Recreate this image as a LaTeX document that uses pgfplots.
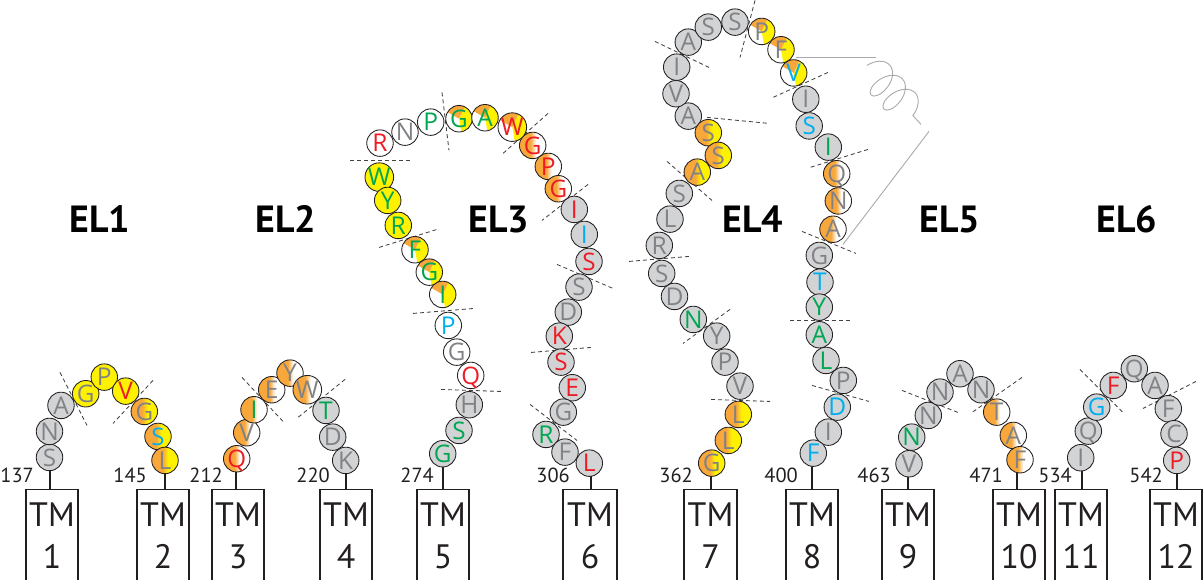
\documentclass[border=0pt]{standalone}
\usepackage{fontspec}
\setmainfont{PT Sans}
\newfontfamily\resfont{Open Sans}
\usepackage{graphicx}
\usepackage{pgfplots}
\pgfplotsset{compat=1.18}
\usepackage{pgfplotstable}
\usetikzlibrary{decorations.pathmorphing}

\definecolor{cgf}{HTML}{D1D3D4}
\definecolor{cyl}{HTML}{FFF200}
\definecolor{cor}{HTML}{F8A73A}
\definecolor{gy}{HTML}{808285}
\definecolor{rd}{HTML}{ED1C24}
\definecolor{gn}{HTML}{00A651}
\definecolor{bl}{HTML}{00AEEF}
\definecolor{ink}{HTML}{231F20}
\definecolor{hel}{HTML}{A7A9AC}

\pgfdeclarehorizontalshading{oy}{100bp}{color(0bp)=(cor); color(25bp)=(cor); color(46bp)=(cor); color(56bp)=(cyl); color(75bp)=(cyl); color(100bp)=(cyl)}
\pgfdeclarehorizontalshading{ow}{100bp}{color(0bp)=(cor); color(25bp)=(cor); color(46bp)=(cor); color(56bp)=(white); color(75bp)=(white); color(100bp)=(white)}

% residue label = letter followed by letter colour
\def\resfmt#1{\expandafter\resfmtB#1\relax}
\def\resfmtB#1#2\relax{\resizebox{!}{17.5bp}{\raisebox{0pt}[\height][0pt]{\resfont\fontsize{20}{20}\selectfont\textcolor{#2}{#1}}}}

\pgfplotstableread{
x y r
49.5 457 Sgy
49.5 431 Ngy
61 405 Agy
326 410 Tgn
332.7 436.7 Dgy
345.7 460 Kgy
442.7 453.3 Ggn
459 430 Sgn
469.3 404.3 Hgy
574.3 209 Ird
584.3 234 Ibl
589 261 Srd
579 286.7 Sgy
568.3 311.7 Dgy
559.3 335.7 Krd
561 361.7 Srd
572.3 387.3 Erd
563.3 411.7 Ggy
546 434 Rgn
565 451.7 Fgy
589.3 462.7 Lrd
740 385.7 Vgy
725 361.7 Pgy
716.7 335.7 Ygy
693.3 319 Ngn
674.5 296 Dgy
661.7 273 Sgy
659.3 245 Rgy
670 218.7 Lgy
679.3 193 Sgy
688.3 115.7 Agy
676 93.3 Vgy
676.7 66.7 Igy
688.3 41.7 Agy
708.3 26.7 Sgy
735 21.7 Sgy
805.8 98.8 Igy
809.2 125.5 Sbl
828.3 146.7 Ign
819.3 255 Ggy
820 281.7 Tbl
819.3 306.7 Ygn
819.3 334.3 Agn
826 360 Lgn
843.3 380 Pgy
837.3 406.7 Dbl
828.3 431.7 Igy
813.3 452.7 Fbl
909 463.3 Vgy
911.7 436.7 Ngn
928.3 415 Ngy
940 391.7 Ngy
960 373.3 Agy
981 389.3 Ngy
1080.7 457.3 Igy
1088.3 430.7 Qgy
1096.7 406.7 Gbl
1113.3 385 Frd
1134.3 368.3 Qgy
1155 385 Agy
1168.3 408.3 Fgy
1174 433.3 Cgy
1176.7 460 Prd
}\tgrey

\pgfplotstableread{
x y r
85.7 393.3 Ggy
104.3 376.7 Pgy
125.7 390.7 Vrd
379.3 176.7 Wgn
387.7 200 Ygn
398.3 225 Rgn
}\tyellow

\pgfplotstableread{
x y r
144.3 411 Ggy
158 436 Sbl
165 460 Lgy
708.3 132.3 Sgy
718.3 155 Sgy
697.3 171.7 Agy
738.3 414 Lgy
728.3 440 Lgy
711.7 462.7 Ggy
}\toy

\pgfplotstableread{
x y r
236.7 458.3 Qrd
246.7 432.3 Vgy
254 409.3 Ign
271.7 389.3 Egy
290 372.7 Ygy
307.3 389.3 Wgy
532.7 145 Grd
548.3 166 Prd
558.3 188.3 Grd
836.7 173.3 Qgy
838.3 200.5 Ngy
833 228.8 Agy
996.7 411.7 Tgy
1013.3 435 Agy
1020 459.3 Fgy
}\tow

\pgfplotstableread{
x y r
380 142.7 Rrd
405 131.7 Ngy
430.7 121.7 Pgn
448.3 325 Pbl
456.7 351.7 Ggy
470.7 375 Qrd
}\twhite

\pgfplotstableread{
x y r
459 118.3 Ggn
485 117.3 Agn
512.3 126.7 Wrd
415 249.3 Fgn
429.3 271.7 Ggn
442.7 294 Ign
761.7 31 Pgy
781 49.3 Fgy
793.7 72.5 Vbl
}\tpie

\pgfplotsset{
  res/.style={draw=none, mark=none, point meta=explicit symbolic,
    nodes near coords={\resfmt{\pgfplotspointmeta}},
    every node near coord/.append style={circle, draw=ink, line width=0.85bp,
      minimum size=26.5bp, inner sep=0pt, anchor=center,
      text height=17.5bp, text depth=0pt}},
  dsh/.style={ink!85, line width=0.85bp, dash pattern=on 4bp off 3bp},
  box/.style={ink, line width=1.1bp},
  stem/.style={ink, line width=1.9bp},
}

\begin{document}
\begin{tikzpicture}
\begin{axis}[scale only axis, width=1203bp, height=579bp,
  xmin=0, xmax=1203, ymin=0, ymax=579, y dir=reverse,
  hide axis, clip=false]
\addplot[draw=none] coordinates {(0,0) (1203,579)};

% dashed separators
\addplot[dsh] coordinates {(60,372) (87,425)};
\addplot[dsh] coordinates {(153,380) (113,423)};
\addplot[dsh] coordinates {(242,377) (283,421)};
\addplot[dsh] coordinates {(345,379) (298,417)};
\addplot[dsh] coordinates {(442,92) (449,150)};
\addplot[dsh] coordinates {(350,160) (410,160)};
\addplot[dsh] coordinates {(548,113) (503,153)};
\addplot[dsh] coordinates {(379,247) (437,229)};
\addplot[dsh] coordinates {(588,184) (542,220)};
\addplot[dsh] coordinates {(557,264) (613,288)};
\addplot[dsh] coordinates {(531,352) (591,347)};
\addplot[dsh] coordinates {(413,313) (474,308)};
\addplot[dsh] coordinates {(441,389) (501,391)};
\addplot[dsh] coordinates {(530,404) (577,440)};
\addplot[dsh] coordinates {(755,0) (740,57)};
\addplot[dsh] coordinates {(655,41) (709,67)};
\addplot[dsh] coordinates {(828,72) (773,97)};
\addplot[dsh] coordinates {(707,117) (769,123)};
\addplot[dsh] coordinates {(667,161) (712,200)};
\addplot[dsh] coordinates {(868,149) (810,167)};
\addplot[dsh] coordinates {(802,231) (856,253)};
\addplot[dsh] coordinates {(629,261) (689,256)};
\addplot[dsh] coordinates {(730,309) (683,343)};
\addplot[dsh] coordinates {(711,399) (770,401)};
\addplot[dsh] coordinates {(790,320) (850,320)};
\addplot[dsh] coordinates {(812,385) (869,401)};
\addplot[dsh] coordinates {(902,390) (958,412)};
\addplot[dsh] coordinates {(1022,377) (972,412)};
\addplot[dsh] coordinates {(1080,369) (1123,412)};
\addplot[dsh] coordinates {(1196,381) (1143,408)};

% helix
\addplot[hel, line width=0.9bp] coordinates {(796,57) (876,57)};
\addplot[hel, line width=0.9bp, decorate, decoration={coil, amplitude=17bp, segment length=19bp, aspect=0.6}] coordinates {(867,65) (921,124)};
\addplot[hel, line width=0.9bp] coordinates {(929,131) (843,244)};

% stems
\addplot[stem] coordinates {(50,457) (50,489)};
\addplot[stem] coordinates {(165,460) (165,489)};
\addplot[stem] coordinates {(236,458) (236,489)};
\addplot[stem] coordinates {(346,460) (346,489)};
\addplot[stem] coordinates {(443,453) (443,489)};
\addplot[stem] coordinates {(591,463) (591,489)};
\addplot[stem] coordinates {(711,463) (711,489)};
\addplot[stem] coordinates {(812,453) (812,489)};
\addplot[stem] coordinates {(908,463) (908,489)};
\addplot[stem] coordinates {(1017,459) (1017,489)};
\addplot[stem] coordinates {(1082,457) (1082,489)};
\addplot[stem] coordinates {(1177,460) (1177,489)};

% TM boxes
\addplot[box] coordinates {(26,580) (26,489) (78,489) (78,580)};
\addplot[box] coordinates {(137,580) (137,489) (189,489) (189,580)};
\addplot[box] coordinates {(212,580) (212,489) (264,489) (264,580)};
\addplot[box] coordinates {(320,580) (320,489) (372,489) (372,580)};
\addplot[box] coordinates {(417,580) (417,489) (469,489) (469,580)};
\addplot[box] coordinates {(563,580) (563,489) (617,489) (617,580)};
\addplot[box] coordinates {(684,580) (684,489) (737,489) (737,580)};
\addplot[box] coordinates {(786,580) (786,489) (838,489) (838,580)};
\addplot[box] coordinates {(882,580) (882,489) (934,489) (934,580)};
\addplot[box] coordinates {(993,580) (993,489) (1045,489) (1045,580)};
\addplot[box] coordinates {(1055,580) (1055,489) (1107,489) (1107,580)};
\addplot[box] coordinates {(1150,580) (1150,489) (1202,489) (1202,580)};

% residues
\addplot[res, every node near coord/.append style={fill=cgf}] table[x=x,y=y,meta=r]{\tgrey};
\addplot[res, every node near coord/.append style={fill=cyl}] table[x=x,y=y,meta=r]{\tyellow};
\addplot[res, every node near coord/.append style={shading=oy}] table[x=x,y=y,meta=r]{\toy};
\addplot[res, every node near coord/.append style={shading=ow}] table[x=x,y=y,meta=r]{\tow};
\addplot[res, every node near coord/.append style={fill=white}] table[x=x,y=y,meta=r]{\twhite};
\addplot[res, every node near coord/.append style={fill=white,
  path picture={
    \fill[cyl] (path picture bounding box.center) -- ++(-80:15bp) arc[start angle=-80, end angle=65, radius=15bp] -- cycle;
    \fill[cor] (path picture bounding box.center) -- ++(65:15bp) arc[start angle=65, end angle=150, radius=15bp] -- cycle;
  }}] table[x=x,y=y,meta=r]{\tpie};

% residue numbers
\begin{scope}[every node/.style={anchor=base east, text=ink, font=\fontsize{20.5}{20.5}\selectfont, inner sep=0pt}]
\node at (axis cs:34,482) {137};
\node at (axis cs:147,482) {145};
\node at (axis cs:223,482) {212};
\node at (axis cs:330,482) {220};
\node at (axis cs:434,482) {274};
\node at (axis cs:570,482) {306};
\node at (axis cs:693,482) {362};
\node at (axis cs:798,482) {400};
\node at (axis cs:891,482) {463};
\node at (axis cs:1003,482) {471};
\node at (axis cs:1072,482) {534};
\node at (axis cs:1163,482) {542};
\end{scope}

% TM labels
\begin{scope}[every node/.style={anchor=base, text=ink, font=\fontsize{34}{34}\selectfont, inner sep=0pt}]
\node at (axis cs:52,526.5) {TM};   \node at (axis cs:52,568.5) {1};
\node at (axis cs:163,526.5) {TM};  \node at (axis cs:163,568.5) {2};
\node at (axis cs:238,526.5) {TM};  \node at (axis cs:238,568.5) {3};
\node at (axis cs:346,526.5) {TM};  \node at (axis cs:346,568.5) {4};
\node at (axis cs:443,526.5) {TM};  \node at (axis cs:443,568.5) {5};
\node at (axis cs:590,526.5) {TM};  \node at (axis cs:590,568.5) {6};
\node at (axis cs:710.5,526.5) {TM};\node at (axis cs:710.5,568.5) {7};
\node at (axis cs:812,526.5) {TM};  \node at (axis cs:812,568.5) {8};
\node at (axis cs:908,526.5) {TM};  \node at (axis cs:908,568.5) {9};
\node at (axis cs:1019,526.5) {TM}; \node at (axis cs:1019,568.5) {10};
\node at (axis cs:1081,526.5) {TM}; \node at (axis cs:1081,568.5) {11};
\node at (axis cs:1176,526.5) {TM}; \node at (axis cs:1176,568.5) {12};
\end{scope}

% loop labels
\begin{scope}[every node/.style={anchor=base, text=black, font=\fontsize{38}{38}\selectfont\bfseries, inner sep=0pt}]
\node at (axis cs:100,232) {EL1};
\node at (axis cs:286,232) {EL2};
\node at (axis cs:499,232) {EL3};
\node at (axis cs:753,232) {EL4};
\node at (axis cs:950,232) {EL5};
\node at (axis cs:1127,232) {EL6};
\end{scope}
\end{axis}
\end{tikzpicture}
\end{document}
